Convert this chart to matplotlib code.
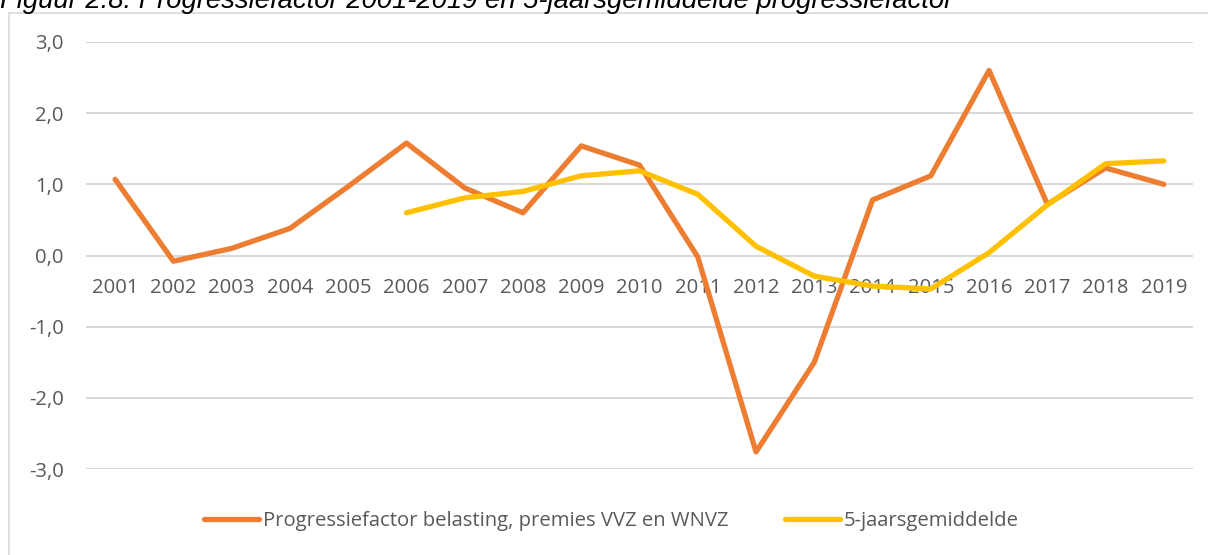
import matplotlib
matplotlib.use("Agg")
import matplotlib.pyplot as plt
from matplotlib.patches import Rectangle
from matplotlib.lines import Line2D

years = [str(y) for y in range(2001, 2020)]
progressiefactor = [1.07, -0.08, 0.10, 0.38, 0.97, 1.58, 0.95, 0.60, 1.54, 1.27,
                    -0.02, -2.76, -1.50, 0.78, 1.12, 2.60, 0.72, 1.23, 1.00]
gemiddelde_years = years[5:]
gemiddelde = [0.60, 0.81, 0.90, 1.12, 1.19, 0.86, 0.13, -0.29, -0.43, -0.47,
              0.04, 0.71, 1.29, 1.33]
y_ticks = [-3.0, -2.0, -1.0, 0.0, 1.0, 2.0, 3.0]
y_ticklabels = ["-3,0", "-2,0", "-1,0", "0,0", "1,0", "2,0", "3,0"]
label1 = "Progressiefactor belasting, premies VVZ en WNVZ"
label2 = "5-jaarsgemiddelde"
title = "Figuur 2.8: Progressiefactor 2001-2019 en 5-jaarsgemiddelde progressiefactor"

plt.rcParams["font.family"] = ["Open Sans", "DejaVu Sans"]

W, H = 1208, 555
fig = plt.figure(figsize=(W / 100, H / 100), dpi=100)
fig.patch.set_facecolor("white")

def px(x0, y0, x1, y1):
    return [x0 / W, 1 - y1 / H, (x1 - x0) / W, (y1 - y0) / H]

ax = fig.add_axes(px(86, 42, 1193, 469))
ax.set_facecolor("none")

ORANGE = "#ED7D31"
YELLOW = "#FFC000"
GRID = "#D9D9D9"
TXT = "#595959"
FS = 14.6

for s in ["top", "right", "left"]:
    ax.spines[s].set_visible(False)
ax.spines["bottom"].set_position(("data", 0))
ax.spines["bottom"].set_visible(False)

xs = list(range(len(years)))
xs2 = [years.index(y) for y in gemiddelde_years]
ax.plot(xs, progressiefactor, color=ORANGE, lw=3.8, solid_capstyle="round",
        solid_joinstyle="round", zorder=3)
ax.plot(xs2, gemiddelde, color=YELLOW, lw=3.8, solid_capstyle="round",
        solid_joinstyle="round", zorder=4)

ax.set_xlim(-0.5, len(years) - 0.5)
ax.set_ylim(-3.0, 3.0)
ax.set_yticks(y_ticks)
ax.set_yticklabels(y_ticklabels)
ax.set_xticks(xs)
ax.set_xticklabels(years)
ax.tick_params(axis="y", length=0, pad=16, labelcolor=TXT, labelsize=FS)
ax.tick_params(axis="x", length=0, pad=16.5, labelcolor=TXT, labelsize=FS)
ax.yaxis.grid(True, color=GRID, lw=1.5, zorder=0)
ax.set_axisbelow(True)

# chart frame
fig.patches.append(Rectangle((8.5 / W, -0.1), 1.2, 1 - 12.5 / H + 0.1,
                             transform=fig.transFigure, fill=False,
                             edgecolor=GRID, lw=1.2))

# title (partially clipped at top)
fig.text(0.0, 1 - 8 / H, title, fontfamily="Liberation Sans", style="italic",
         fontsize=19.8, color="black", ha="left", va="baseline")

# legend
handles = [Line2D([], [], color=ORANGE, lw=3.8, solid_capstyle="round"),
           Line2D([], [], color=YELLOW, lw=3.8, solid_capstyle="round")]
leg = fig.legend(handles, [label1, label2], loc="center",
                 bbox_to_anchor=(611.5 / W, 1 - 521 / H), ncol=2, frameon=False,
                 prop={"size": FS}, handlelength=2.7,
                 handletextpad=0.2, columnspacing=2.8, labelcolor=TXT)

fig.savefig("out.png", dpi=100, facecolor="white")
